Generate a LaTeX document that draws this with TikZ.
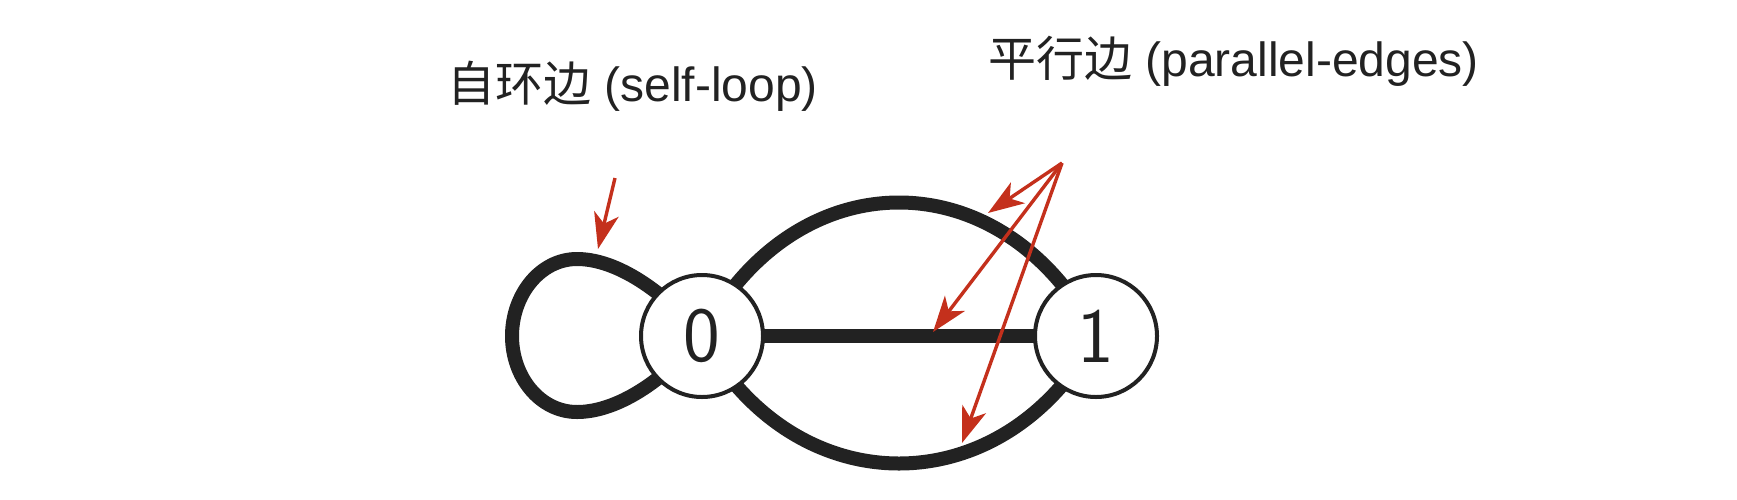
\documentclass[tikz,border=0pt]{standalone}
\usepackage{fontspec}
\setmainfont{Liberation Sans}
\newfontfamily\cjk{Noto Sans CJK SC}
\usetikzlibrary{arrows.meta}
\definecolor{ink}{HTML}{222222}
\definecolor{redarrow}{HTML}{C4301C}
\pgfdeclarelayer{paper}
\pgfdeclarelayer{bg}
\pgfsetlayers{paper,bg,main}
\begin{document}
\begin{tikzpicture}[x=1pt,y=-1pt,
  vertex/.style={circle,draw=ink,line width=4pt,fill=white,minimum size=122pt,inner sep=0pt,
    font=\sffamily\fontsize{78}{78}\selectfont,text=ink},
  graphedge/.style={draw=ink,line width=14pt},
  pointer/.style={draw=redarrow,line width=3.4pt,-{Stealth[length=36pt,width=25pt,inset=10pt]}},
  caption/.style={anchor=base west,inner sep=0pt,font=\fontsize{48}{56}\selectfont,text=ink}]
\begin{pgfonlayer}{paper}
  \fill[white] (0,0) rectangle (1737,499);
\end{pgfonlayer}
\useasboundingbox (0,0) rectangle (1737,499);

\node[vertex] (n0) at (702,336) {0};
\node[vertex] (n1) at (1096,336) {1};

\begin{pgfonlayer}{bg}
  % self-loop
  \draw[graphedge,line join=round] (n0.center)
     .. controls (657,284) and (612,259) .. (577,259)
     .. controls (540,259) and (512,295) .. (512,336)
     .. controls (512,377) and (540,412) .. (577,412)
     .. controls (612,412) and (657,388) .. (n0.center);
  % parallel edges
  \draw[graphedge] (n0.center) .. controls (795,158) and (1003,158) .. (n1.center);
  \draw[graphedge] (n0.center) -- (n1.center);
  \draw[graphedge] (n0.center) .. controls (795,506) and (1003,506) .. (n1.center);
\end{pgfonlayer}

% labels
\node[caption] (lab0) at (447,101) {{\cjk 自环边} (self-loop)};
\node[caption] (lab1) at (988,76) {{\cjk 平行边} (parallel-edges)};

% red pointers
\coordinate (loopsrc) at (615,178);
\coordinate (looptip) at (598,249);
\draw[pointer] (loopsrc) -- (looptip);

\coordinate (parsrc) at (1062,163);
\coordinate (toptip) at (988,213);
\coordinate (midtip) at (933,332);
\coordinate (bottip) at (962,443);
\draw[pointer] (parsrc) -- (toptip);
\draw[pointer] (parsrc) -- (midtip);
\draw[pointer] (parsrc) -- (bottip);
\end{tikzpicture}
\end{document}
